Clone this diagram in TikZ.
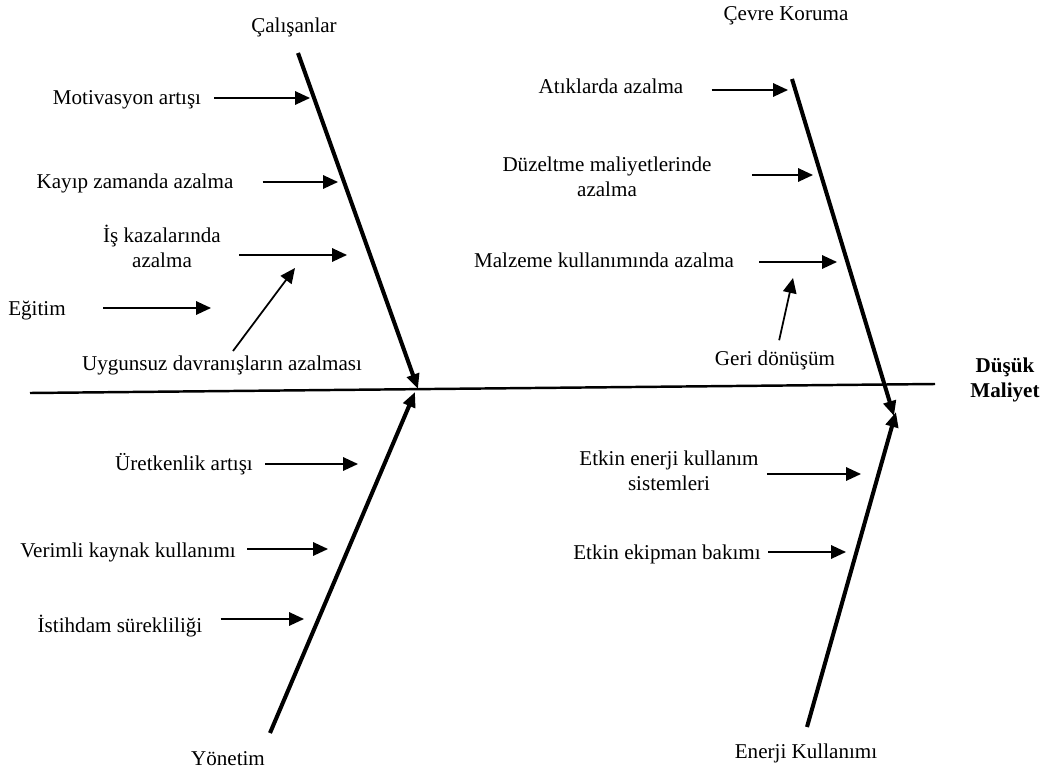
\documentclass[tikz,border=0pt]{standalone}
\usepackage{fontspec}
\setmainfont{Liberation Serif}
\usepackage{tikz}
\usetikzlibrary{arrows.meta}

\begin{document}
\begin{tikzpicture}[x=0.02cm, y=-0.02cm,
    lbl/.style={font=\fontsize{12}{14}\selectfont, inner sep=0pt, anchor=base, align=center},
    cause/.style={line width=1pt, -{Triangle[length=3mm,width=2.7mm]}},
    bone/.style={line width=2.3pt, -{Triangle[length=3mm,width=2.5mm]}},
    spine/.style={line width=1.4pt}]
    \useasboundingbox (0,0) rectangle (1046,771);

    % spine and head
    \coordinate (spL) at (30,393);
    \coordinate (spR) at (935,384);
    \draw[spine] (spL) -- (spR);
    \node[lbl, font=\fontsize{12}{14}\selectfont\bfseries] (head) at (1005,397) {Düşük\\Maliyet};

    % bone ends
    \coordinate (calA) at (298,53);
    \coordinate (calB) at (418,389);
    \coordinate (yonA) at (270,733);
    \coordinate (yonB) at (415,392);
    \coordinate (cevA) at (792,79);
    \coordinate (cevB) at (894,416);
    \coordinate (enrA) at (807,727);
    \coordinate (enrB) at (896,412);

    % draws bones
    \draw[bone] (calA) -- (calB);
    \draw[bone] (yonA) -- (yonB);
    \draw[bone] (cevA) -- (cevB);
    \draw[bone] (enrA) -- (enrB);

    % labels bones
    \node[lbl] (cal) at (294,32) {Çalışanlar};
    \node[lbl] (yon) at (228,765) {Yönetim};
    \node[lbl] (cev) at (786,20) {Çevre Koruma};
    \node[lbl] (enr) at (806,758) {Enerji Kullanımı};

    % causes, Çalışanlar
    \node[lbl] (mot) at (127,104) {Motivasyon artışı};
    \node[lbl] (kay) at (135,188) {Kayıp zamanda azalma};
    \node[lbl] (isk) at (162,267) {İş kazalarında\\azalma};
    \node[lbl] (egi) at (37,315) {Eğitim};
    \node[lbl] (uyg) at (222,370) {Uygunsuz davranışların azalması};
    \coordinate (motT) at (310,98);
    \coordinate (kayT) at (338,182);
    \coordinate (iskT) at (347,255);
    \coordinate (egiT) at (211,308);
    \coordinate (uygT) at (295,268);
    \draw[cause, shorten <=0.26cm] (mot.east |- motT) -- (motT);
    \draw[cause, shorten <=0.58cm] (kay.east |- kayT) -- (kayT);
    \draw[cause, shorten <=0.36cm] (isk.east |- iskT) -- (iskT);
    \draw[cause, shorten <=0.74cm] (egi.east |- egiT) -- (egiT);
    \draw[cause, shorten <=0.1cm] (uyg.north -| 230,0) -- (uygT);

    % causes, Yönetim
    \node[lbl] (ure) at (184,470) {Üretkenlik artışı};
    \node[lbl] (ver) at (128,557) {Verimli kaynak kullanımı};
    \node[lbl] (ist) at (120,632) {İstihdam sürekliliği};
    \coordinate (ureT) at (358,464);
    \coordinate (verT) at (328,549);
    \coordinate (istT) at (304,619);
    \draw[cause, shorten <=0.24cm] (ure.east |- ureT) -- (ureT);
    \draw[cause, shorten <=0.22cm] (ver.east |- verT) -- (verT);
    \draw[cause, shorten <=0.36cm] (ist.east |- istT) -- (istT);

    % causes, Çevre Koruma
    \node[lbl] (atk) at (611,93) {Atıklarda azalma};
    \node[lbl] (duz) at (607,196) {Düzeltme maliyetlerinde\\azalma};
    \node[lbl] (mal) at (604,267) {Malzeme kullanımında azalma};
    \node[lbl] (ger) at (775,365) {Geri dönüşüm};
    \coordinate (atkT) at (788,90);
    \coordinate (duzT) at (813,175);
    \coordinate (malT) at (837,262);
    \coordinate (gerT) at (793,278);
    \draw[cause, shorten <=0.56cm] (atk.east |- atkT) -- (atkT);
    \draw[cause, shorten <=0.8cm] (duz.east |- duzT) -- (duzT);
    \draw[cause, shorten <=0.5cm] (mal.east |- malT) -- (malT);
    \draw[cause, shorten <=0.2cm] (ger.north -| 777,0) -- (gerT);

    % causes, Enerji Kullanımı
    \node[lbl] (eks) at (669,490) {Etkin enerji kullanım\\sistemleri};
    \node[lbl] (ekb) at (667,559) {Etkin ekipman bakımı};
    \coordinate (eksT) at (861,474);
    \coordinate (ekbT) at (846,552);
    \draw[cause, shorten <=0.16cm] (eks.east |- eksT) -- (eksT);
    \draw[cause, shorten <=0.14cm] (ekb.east |- ekbT) -- (ekbT);
\end{tikzpicture}
\end{document}
